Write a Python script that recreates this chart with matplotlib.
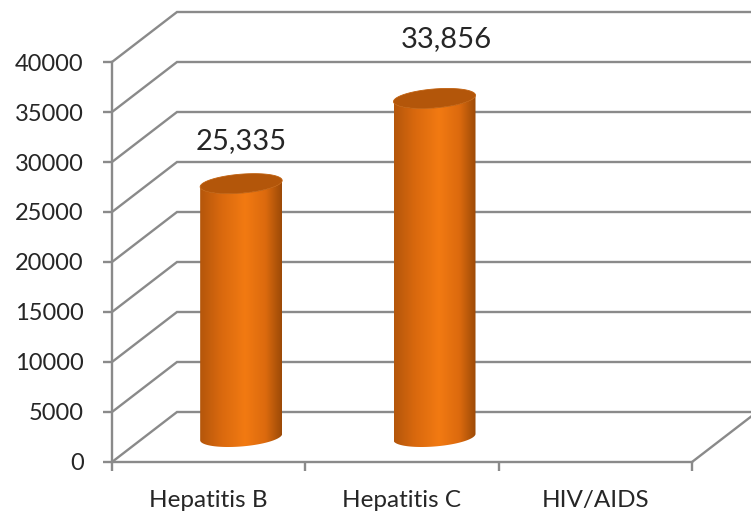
import numpy as np
import matplotlib
matplotlib.use('Agg')
import matplotlib.pyplot as plt
from matplotlib.patches import Polygon
from matplotlib.colors import LinearSegmentedColormap

# ---- data ----
categories = ['Hepatitis B', 'Hepatitis C', 'HIV/AIDS']
values = [25335, 33856, np.nan]
value_labels = ['25,335', '33,856', '']
y_ticks = [0, 5000, 10000, 15000, 20000, 25000, 30000, 35000, 40000]

# ---- layout / style ----
label_offsets_pt = [(0, 31), (8.5, 43), (0, 0)]
plt.rcParams['font.family'] = ['Lato', 'DejaVu Sans']
text_color = '#262626'
grid_color = '#8a8a8a'
lw = 1.7

W, H = 751, 515
fig = plt.figure(figsize=(W / 100, H / 100), dpi=100)
px_per_cat = 580 / 3
x0_px, y0_px, ytop_px = 112, 462, 12
xmax = (W - x0_px) / px_per_cat
ax = fig.add_axes([x0_px / W, (H - y0_px) / H, (W - x0_px) / W, (y0_px - ytop_px) / H])
ax.set_xlim(0, xmax)
ax.set_ylim(0, 45000)

DX = 65 / px_per_cat   # depth offset in category units
DY = 5000              # depth offset in value units

# back wall + side wall grid lines
for v in y_ticks:
    ax.plot([0, DX, xmax + 1], [v, v + DY, v + DY], color=grid_color, lw=lw,
            solid_joinstyle='miter', zorder=1, clip_on=False)
ncat = len(categories)
ax.plot([ncat, ncat + DX], [0, DY], color=grid_color, lw=lw, zorder=1, clip_on=False)

# spines
for s in ['top', 'right']:
    ax.spines[s].set_visible(False)
ax.spines['left'].set_bounds(0, y_ticks[-1])
ax.spines['bottom'].set_bounds(0, ncat)
for s in ['left', 'bottom']:
    ax.spines[s].set_color(grid_color)
    ax.spines[s].set_linewidth(lw)
    ax.spines[s].set_zorder(2)

ax.set_yticks(y_ticks)
ax.set_yticklabels([str(t) for t in y_ticks])
ax.tick_params(axis='y', direction='out', length=6.5, width=lw, color=grid_color,
               labelsize=17, labelcolor=text_color, pad=14)
ax.set_xticks(np.arange(ncat + 1))
ax.set_xticklabels([])
ax.set_xticks(np.arange(ncat) + 0.5, minor=True)
ax.set_xticklabels(categories, minor=True)
ax.tick_params(axis='x', which='major', direction='out', length=6.5, width=lw, color=grid_color)
ax.tick_params(axis='x', which='minor', length=0, labelsize=17.5, labelcolor=text_color, pad=20)

# cylinders
cmap = LinearSegmentedColormap.from_list('cyl', [
    (0.0, '#b4560b'), (0.25, '#d8680e'), (0.55, '#f27a12'),
    (0.8, '#dc6a0e'), (1.0, '#9c4a07')])
b = 0.2
half_w = 41 / px_per_cat
a = np.sqrt(half_w ** 2 - (DX * b) ** 2)
th0 = np.arctan2(DX * b, a)
theta_full = np.linspace(0, 2 * np.pi, 300)
theta_front = np.linspace(th0 + np.pi, th0 + 2 * np.pi, 200)


def ell(cx, base, th):
    return (cx + a * np.cos(th) + DX * (0.5 + b * np.sin(th)),
            base + DY * (0.5 + b * np.sin(th)))


for i, v in enumerate(values):
    if np.isnan(v):
        continue
    cx = i + 0.5
    bx, by = ell(cx, 0, theta_front)
    tx, ty = ell(cx, v, theta_front[::-1])
    body = Polygon(np.column_stack([np.r_[bx, tx], np.r_[by, ty]]), closed=True,
                   transform=ax.transData, fc='none', ec='none')
    ax.add_patch(body)
    xl, xr = bx.min(), bx.max()
    grad = np.linspace(0, 1, 256).reshape(1, -1)
    im = ax.imshow(grad, extent=[xl, xr, by.min() - 500, ty.max() + 500], cmap=cmap,
                   aspect='auto', zorder=3, interpolation='bilinear')
    im.set_clip_path(body)
    ex, ey = ell(cx, v, theta_full)
    ax.add_patch(Polygon(np.column_stack([ex, ey]), closed=True, fc='#b3560a',
                         ec='#c0600e', lw=0.6, zorder=4))
    ax.annotate(value_labels[i], xy=(cx + DX * 0.5, v + DY * 0.5),
                xytext=label_offsets_pt[i], textcoords='offset points',
                ha='center', va='center', fontsize=21, color=text_color, zorder=5)

ax.set_xlim(0, xmax)
ax.set_ylim(0, 45000)
fig.savefig('out.png', dpi=100, facecolor='white')
